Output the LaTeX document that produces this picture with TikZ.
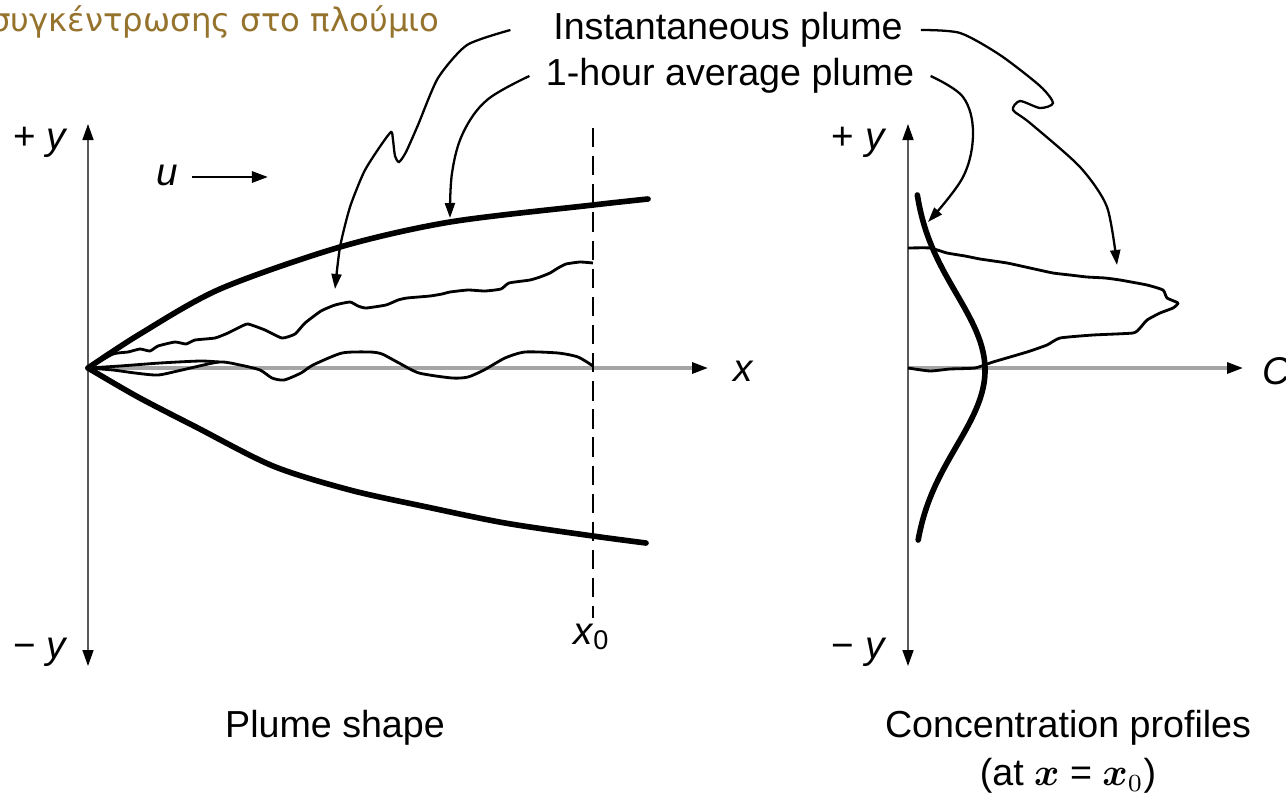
\documentclass[tikz,border=0pt]{standalone}
\usepackage{amsmath}
\usepackage{fontspec}
\setmainfont{Liberation Sans}
\newfontfamily\greekfont{DejaVu Sans}
\usetikzlibrary{arrows.meta,positioning}
\definecolor{AxisGrey}{RGB}{165,165,165}
\definecolor{AxisDark}{RGB}{90,90,90}
\definecolor{GreekBrown}{RGB}{150,115,45}

\begin{document}
\begin{tikzpicture}[x=0.01cm,y=-0.01cm,
  axline/.style={draw=AxisDark,line width=0.45pt,
                 {Triangle[length=1.6mm,width=1.1mm,black]}-{Triangle[length=1.6mm,width=1.1mm,black]}},
  xaxline/.style={draw=AxisGrey,line width=0.9pt,-{Triangle[length=1.6mm,width=1.1mm,black]}},
  avgline/.style={line width=1.6pt,line cap=round},
  instline/.style={line width=0.8pt,line join=round},
  leader/.style={line width=0.65pt,-{Triangle[length=1.5mm,width=1mm]}},
  cutline/.style={line width=0.6pt,dash pattern=on 5.5pt off 2.5pt},
  lbl/.style={inner sep=0pt,font=\fontsize{10.7}{13}\selectfont},
  varlbl/.style={inner sep=0pt,font=\fontsize{11}{13}\selectfont\itshape},
  greektxt/.style={inner sep=0pt,text=GreekBrown,font=\greekfont\fontsize{9.2}{11}\selectfont},
]
\useasboundingbox (0,0) rectangle (1286,800);
\fill[white] (0,0) rectangle (1286,800);

% labels
\node[greektxt,anchor=east] (gr) at (440,22) {συγκέντρωσης στο πλούμιο};
\node[lbl] (inst) at (728,30) {Instantaneous plume};
\node[lbl] (avg) at (730,76) {1-hour average plume};
\node[lbl] (shape) at (335,728) {Plume shape};
\node[lbl] (conc) at (1068,728) {Concentration profiles};
\node[lbl] (concat) at (1068,776) {(at $\boldsymbol{x}$ = $\boldsymbol{x}_0$)};

% left panel: plume shape
\coordinate (O) at (88,368);
\coordinate (ltop) at (88,124);
\coordinate (lbot) at (88,666);
\coordinate (lxend) at (708,368);
\coordinate (x0top) at (593,128);
\coordinate (x0bot) at (593,618);
\node[varlbl] (lyp) at (40,142) {\upshape+\;\itshape y};
\node[varlbl] (lym) at (40,652) {\upshape−\;\itshape y};
\node[varlbl] (xlab) at (743,371) {x};
\node[varlbl] (x0lab) at (592,637) {x\textsubscript{\upshape 0}};
\node[varlbl] (ulab) at (167,175) {u};
\coordinate (ustart) at (192,177);
\coordinate (uend) at (268,177);

\draw[xaxline] (O) -- (lxend);
\draw[axline] (lbot) -- (ltop);
\draw[cutline] (x0top) -- (x0bot);
\draw[-{Triangle[length=1.6mm,width=1.1mm]},line width=0.8pt] (ustart) -- (uend);

\draw[avgline] plot[smooth] coordinates {(O) (140,334) (220,289) (340,247)
  (450,222) (593,205) (648,199)};
\draw[avgline] plot[smooth] coordinates {(O) (138,397) (196,427) (273,466)
  (350,490) (427,507) (505,523) (593,536) (646,543)};
\draw[instline] plot[smooth,tension=0.3] coordinates {(O) (113,354) (128,352)
  (140,349) (150,351) (158,346) (175,342) (186,344) (195,340) (215,338) (228,333)
  (240,327) (248,324) (265,330) (282,338) (295,334) (305,323) (321,311) (335,305)
  (350,302) (358,306) (366,308) (386,305) (398,300) (407,298) (430,296) (442,294)
  (450,292) (468,290) (485,291) (501,289) (509,283) (530,280) (540,277) (550,273)
  (558,268) (566,264) (580,262) (593,263)};
\draw[instline] plot[smooth,tension=0.4] coordinates {(O) (113,370) (135,373)
  (158,375) (182,370) (219,362) (240,365) (260,370) (272,378) (284,380) (301,373)
  (313,365) (342,353) (370,352) (382,354) (399,363) (419,373) (452,378) (468,377)
  (484,370) (505,358) (525,352) (558,353) (578,357) (593,366)};
\draw[instline] plot[smooth,tension=0.4] coordinates {(O) (120,366) (160,363)
  (200,361) (219,362)};

% right panel: concentration profiles
\coordinate (R) at (908,368);
\coordinate (rtop) at (908,124);
\coordinate (rbot) at (908,666);
\coordinate (rxend) at (1243,368);
\node[varlbl] (ryp) at (858,142) {\upshape+\;\itshape y};
\node[varlbl] (rym) at (858,652) {\upshape−\;\itshape y};
\node[varlbl] (clab) at (1276,371) {C};

\draw[xaxline] (R) -- (rxend);
\draw[axline] (rbot) -- (rtop);

\draw[avgline] plot[domain=195:540,samples=70,smooth]
  ({912+73*exp(-0.5*((\x-370)/76.5)^2)},\x);
\draw[instline] plot[smooth,tension=0.3] coordinates {(908,248) (930,248)
  (947,253) (965,256) (980,259) (1007,263) (1030,268) (1053,273) (1070,275)
  (1087,277) (1105,278) (1120,280) (1147,285) (1163,290) (1167,298) (1178,303)
  (1173,308) (1160,313) (1147,320) (1140,328) (1133,333) (1093,335) (1060,338)
  (1047,345) (1027,352) (993,362) (975,368) (950,369) (930,371) (R)};

% leaders
\coordinate (instTipL) at (335,289);
\coordinate (avgTipL) at (450,218);
\coordinate (instTipR) at (1117,265);
\coordinate (avgTipR) at (928,222);
\draw[leader] plot[smooth,tension=0.4] coordinates {([xshift=-12pt]inst.west)
  (467,45) (438,78) (418,125) (406,152) (399,162) (395,156) (393,140) (391,132)
  (379,148) (364,172) (350,207) (340,247) (instTipL)};
\draw[leader] plot[smooth,tension=0.6] coordinates {([xshift=-4.5pt]avg.west)
  (487,100) (463,133) (452,173) (avgTipL)};
\draw[leader] plot[smooth,tension=0.45] coordinates {([xshift=5pt]inst.east)
  (960,33) (1000,55) (1040,86) (1053,103) (1040,108) (1020,101) (1013,110)
  (1030,123) (1080,167) (1107,207) (instTipR)};
\draw[leader] plot[smooth,tension=0.6] coordinates {([xshift=4.5pt]avg.east)
  (963,97) (973,133) (963,177) (avgTipR)};
\end{tikzpicture}
\end{document}
